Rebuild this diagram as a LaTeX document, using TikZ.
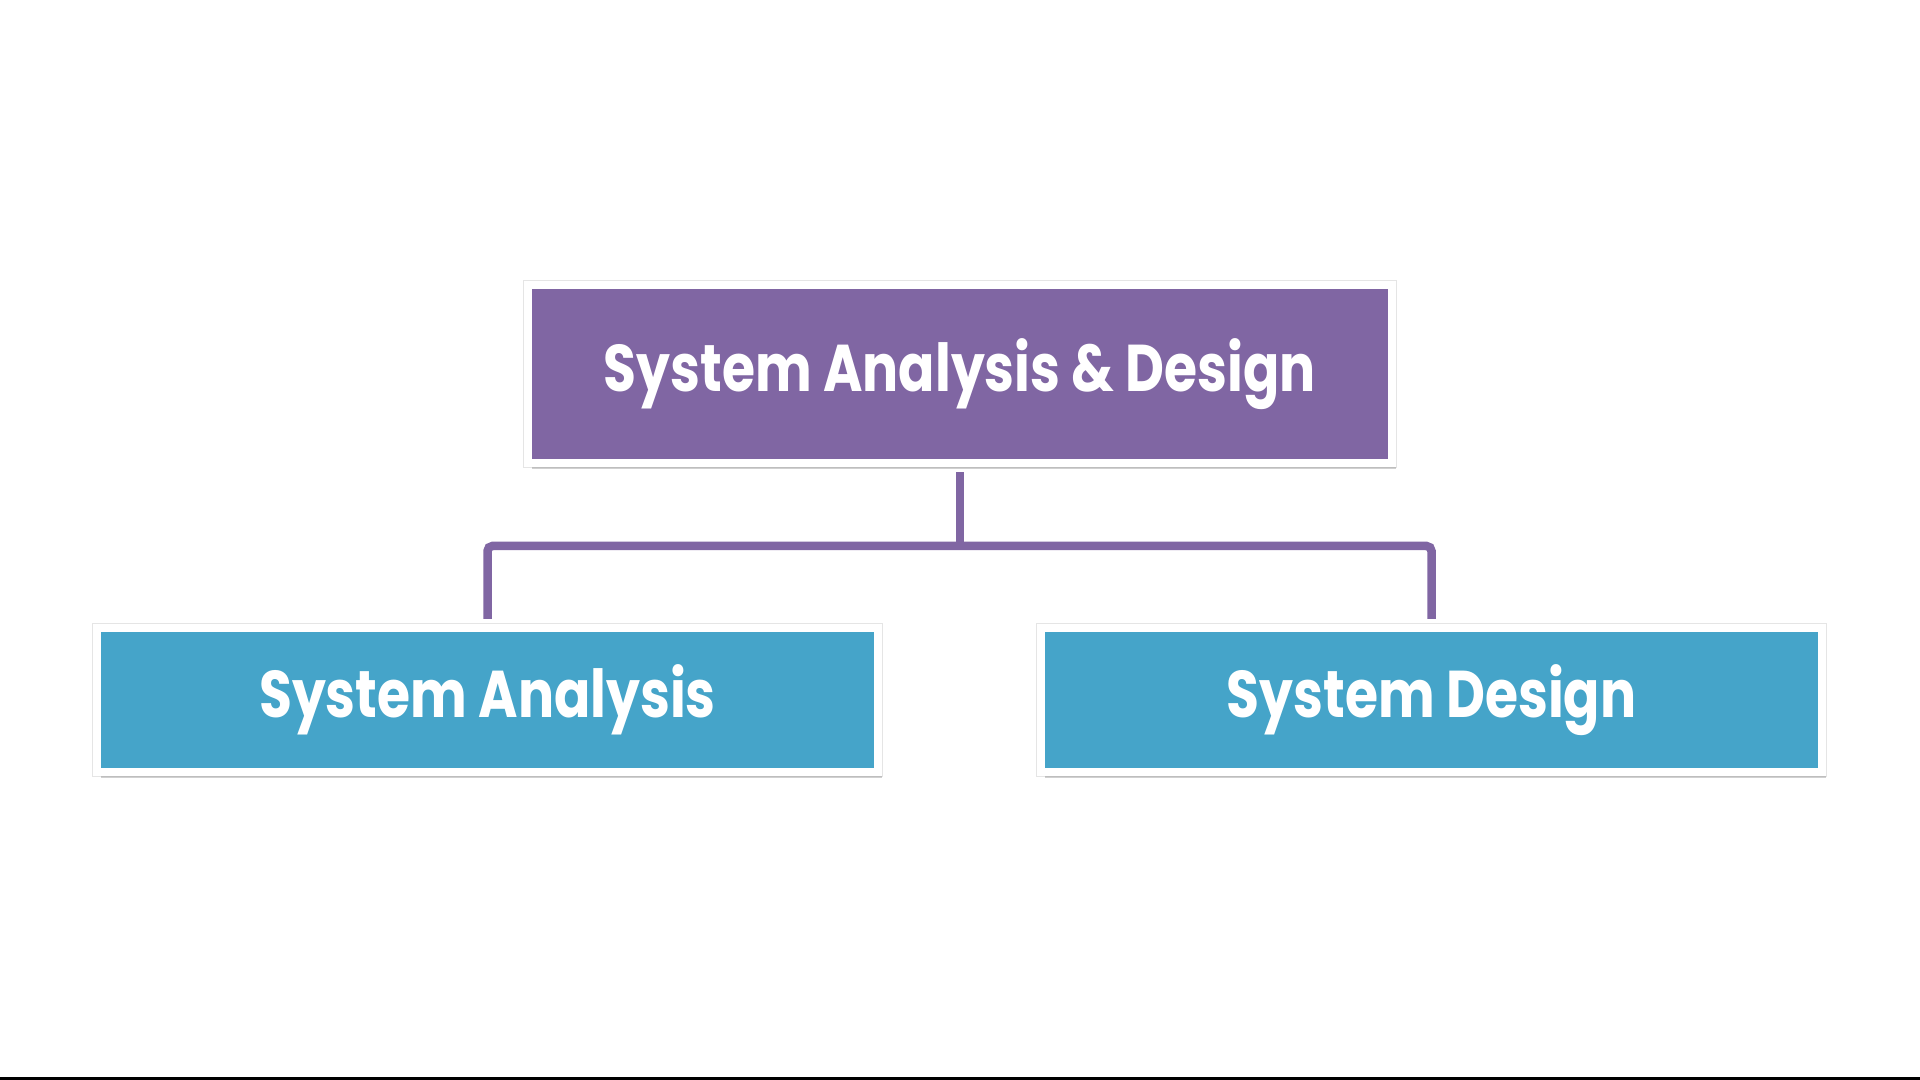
\documentclass[tikz,border=0pt]{standalone}
\usepackage{fontspec}
\usepackage{xcolor}
\newfontfamily\chartfont[FakeStretch=0.81]{Poppins}
\usepackage{tikz}
\usetikzlibrary{positioning, shadows}

\definecolor{headpurple}{HTML}{8066A3}
\definecolor{childblue}{HTML}{45A4C9}

\begin{document}
\begin{tikzpicture}[
    x=0.01cm, y=-0.01cm,
    box/.style={draw=white, line width=0.08cm, text=white, inner sep=0pt,
        font=\chartfont\bfseries\fontsize{18.8}{22}\selectfont,
        preaction={draw=black!10, line width=0.1cm},
        drop shadow={shadow xshift=1.2pt, shadow yshift=-1.8pt, opacity=0.3, fill=black!60}},
    head/.style={box, fill=headpurple, minimum width=8.63cm, minimum height=1.78cm},
    child/.style={box, fill=childblue, minimum width=7.81cm, minimum height=1.44cm},
    link/.style={draw=headpurple, line width=0.085cm, rounded corners=0.05cm}
]
    \useasboundingbox[fill=white] (0,0) rectangle (1920,1080);

    % Boxes
    \coordinate (split) at (960,546);
    \node[head]  (top)      at (960,374)    {System Analysis \& Design};
    \node[child] (analysis) at (487.5,700)  {System Analysis};
    \node[child] (design)   at (1431.5,700) {System Design};

    % Connectors
    \draw[link, shorten <=0.05cm] (top.south) -- (split);
    \draw[link, shorten <=0.05cm, shorten >=0.05cm] (analysis.north) -- (analysis.north |- split) -- (design.north |- split) -- (design.north);

    % Frame edge
    \fill[black] (0,1077) rectangle (1920,1080);
\end{tikzpicture}
\end{document}
